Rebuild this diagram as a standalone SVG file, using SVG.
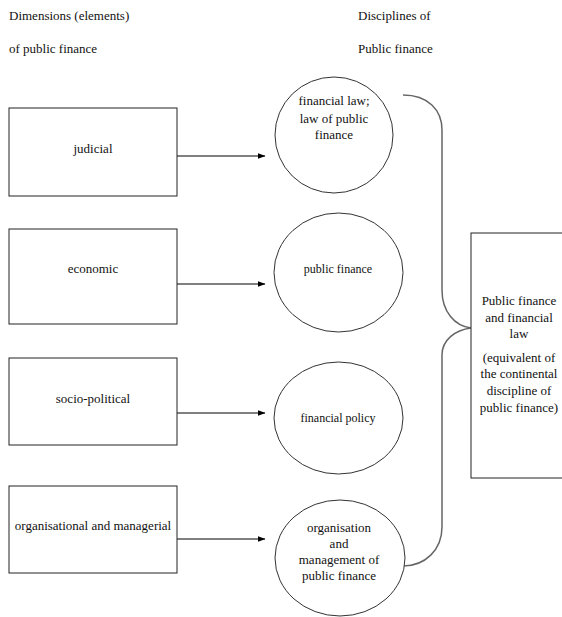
<svg xmlns="http://www.w3.org/2000/svg" width="562" height="617" viewBox="0 0 562 617">
<defs>
<marker id="ah" markerWidth="8" markerHeight="6" refX="7.5" refY="3" orient="auto" markerUnits="userSpaceOnUse">
<path d="M0,0 L8,3 L0,6 Z" fill="#000"/>
</marker>
<style>
.t{font-family:'Liberation Serif','Times New Roman','DejaVu Serif',serif;font-size:13px;fill:#111;}
.c{text-anchor:middle;}
.box{fill:#fff;stroke:#222;stroke-width:1;}
.circ{fill:#fff;stroke:#333;stroke-width:1;}
.arr{stroke:#000;stroke-width:1;fill:none;marker-end:url(#ah);}
.brace{stroke:#666;stroke-width:1.5;fill:none;}
</style>
</defs>
<rect width="562" height="617" fill="#fff"/>
<g id="headers" class="t">
<text x="9" y="20">Dimensions  (elements)</text>
<text x="9" y="53">of public finance</text>
<text x="358" y="20">Disciplines  of</text>
<text x="358" y="53">Public finance</text>
</g>
<g id="connectors">
<line class="arr" x1="177" y1="156" x2="265" y2="156"/>
<line class="arr" x1="177" y1="284" x2="265" y2="284"/>
<line class="arr" x1="177" y1="413" x2="265" y2="413"/>
<line class="arr" x1="177" y1="539" x2="265" y2="539"/>
<path class="brace" d="M403,95 C428,95 442,110 442,130 L442,290 C442,312 455,326 471,328 C455,330 442,340 442,355 L442,527 C442,550 425,566 403,566"/>
</g>
<g id="box-judicial" class="t">
<rect class="box" x="9" y="108" width="168" height="88"/>
<text class="c" x="93" y="153">judicial</text>
</g>
<g id="box-economic" class="t">
<rect class="box" x="9" y="229" width="168" height="95"/>
<text class="c" x="93" y="273">economic</text>
</g>
<g id="box-socio" class="t">
<rect class="box" x="9" y="358" width="168" height="87"/>
<text class="c" x="93" y="403">socio-political</text>
</g>
<g id="box-org" class="t">
<rect class="box" x="9" y="486" width="168" height="87"/>
<text class="c" x="93" y="530">organisational  and managerial</text>
</g>
<g id="circle-law" class="t">
<ellipse class="circ" cx="334" cy="135" rx="59" ry="58"/>
<text class="c" x="334" y="105">financial  law;</text>
<text class="c" x="334" y="123">law of public</text>
<text class="c" x="334" y="139">finance</text>
</g>
<g id="circle-pf" class="t">
<ellipse class="circ" cx="338.5" cy="272.5" rx="64.5" ry="59.5"/>
<text class="c" x="338" y="273" style="font-size:12px">public finance</text>
</g>
<g id="circle-policy" class="t">
<ellipse class="circ" cx="338.5" cy="418" rx="64.5" ry="56"/>
<text class="c" x="338" y="422" style="font-size:12px">financial policy</text>
</g>
<g id="circle-org" class="t">
<ellipse class="circ" cx="340" cy="558" rx="65" ry="58"/>
<text class="c" x="339" y="532">organisation</text>
<text class="c" x="339" y="548">and</text>
<text class="c" x="339" y="564">management of</text>
<text class="c" x="339" y="580">public finance</text>
</g>
<g id="box-result" class="t">
<rect class="box" x="471" y="233" width="100" height="245"/>
<text class="c" x="519" y="305">Public finance</text>
<text class="c" x="519" y="322">and financial</text>
<text class="c" x="519" y="338">law</text>
<text class="c" x="519" y="362">(equivalent of</text>
<text class="c" x="519" y="378">the continental</text>
<text class="c" x="519" y="395">discipline of</text>
<text class="c" x="519" y="412">public finance)</text>
</g>
</svg>
